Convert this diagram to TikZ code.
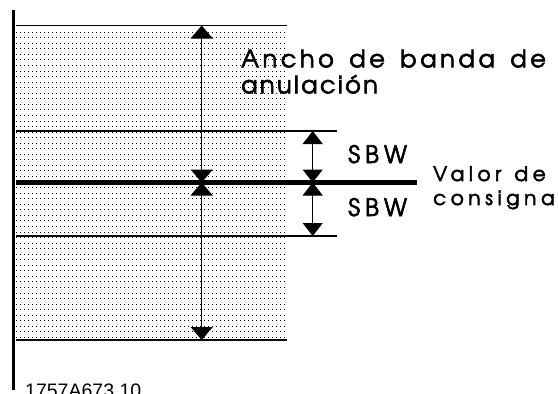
\documentclass[tikz,border=0pt]{standalone}
\usepackage{fontspec}
\usetikzlibrary{arrows.meta}
\newfontfamily\advA[LetterSpace=15,WordSpace=1.5,FakeBold=2.5]{texgyreadventor-regular.otf}
\newfontfamily\advB[LetterSpace=10,FakeBold=2.5]{texgyreadventor-regular.otf}
\newfontfamily\advS[LetterSpace=21,FakeBold=2.5]{texgyreadventor-regular.otf}
\newfontfamily\advV[LetterSpace=23,WordSpace=1.3,FakeBold=2.5]{texgyreadventor-regular.otf}
\newfontfamily\codefont{Liberation Sans}
\tikzset{
  thinline/.style={line width=1.4pt},
  thickline/.style={line width=4.6pt},
  dotrow/.style={line width=1.4pt, dash pattern=on 1.4pt off 2.6pt},
  dim/.style={line width=1pt, {Triangle[width=22pt,length=13pt]}-{Triangle[width=22pt,length=13pt]}},
  sdim/.style={line width=1pt, {Triangle[width=20pt,length=13pt]}-{Triangle[width=20pt,length=13pt]}},
  lab/.style={inner sep=0pt, anchor=base west},
}
\begin{document}
\begin{tikzpicture}[x=1pt,y=-1pt]
\useasboundingbox (0,0) rectangle (558,394);
% dotted band
\foreach \k in {0,...,55}{
  \pgfmathsetmacro{\yy}{round(31.7+5.55*\k)+0.5}
  \draw[dotrow] (16,\yy) -- (287,\yy);
}
% axis
\draw[line width=3pt] (13.5,10) -- (13.5,390);
% horizontal lines
\coordinate (t0) at (16,25.5);
\coordinate (t1) at (287,25.5);
\coordinate (u0) at (16,131);
\coordinate (u1) at (337,131);
\coordinate (m0) at (16,182.5);
\coordinate (m1) at (417,182.5);
\coordinate (l0) at (16,236);
\coordinate (l1) at (337,236);
\coordinate (b0) at (16,340);
\coordinate (b1) at (287,340);
\draw[thinline] (t0) -- (t1);
\draw[thinline] (u0) -- (u1);
\draw[thickline] (m0) -- (m1);
\draw[thinline] (l0) -- (l1);
\draw[thinline] (b0) -- (b1);
% dimension arrows
\coordinate (A1) at (201.7,25.5);
\coordinate (A2) at (201.7,182.5);
\coordinate (A3) at (201.7,340);
\coordinate (S1) at (312.7,131);
\coordinate (S2) at (312.7,182.5);
\coordinate (S3) at (312.7,236);
\draw[dim] (A1) -- (A2);
\draw[dim] (A2) -- (A3);
\draw[sdim] (S1) -- (S2);
\draw[sdim] (S2) -- (S3);
% labels
\node[lab, font=\advA\fontsize{24}{28}\selectfont] (anc) at (241,67.3) {Ancho de banda de};
\node[lab, font=\advB\fontsize{24}{28}\selectfont] (anu) at (241,93.3) {anulación};
\node[lab, font=\advS\fontsize{24}{28}\selectfont] (sbw1) at (348,163) {SBW};
\node[lab, font=\advS\fontsize{24}{28}\selectfont] (sbw2) at (348,216) {SBW};
\node[lab, font=\advV\fontsize{20}{23}\selectfont] (val) at (433,181) {Valor de};
\node[lab, font=\advV\fontsize{20}{23}\selectfont] (con) at (433,205) {consigna};
\node[inner sep=0pt, anchor=base west, font=\codefont\fontsize{19.5}{22}\selectfont] (code) at (25,397) {1757A673.10};
\end{tikzpicture}
\end{document}
